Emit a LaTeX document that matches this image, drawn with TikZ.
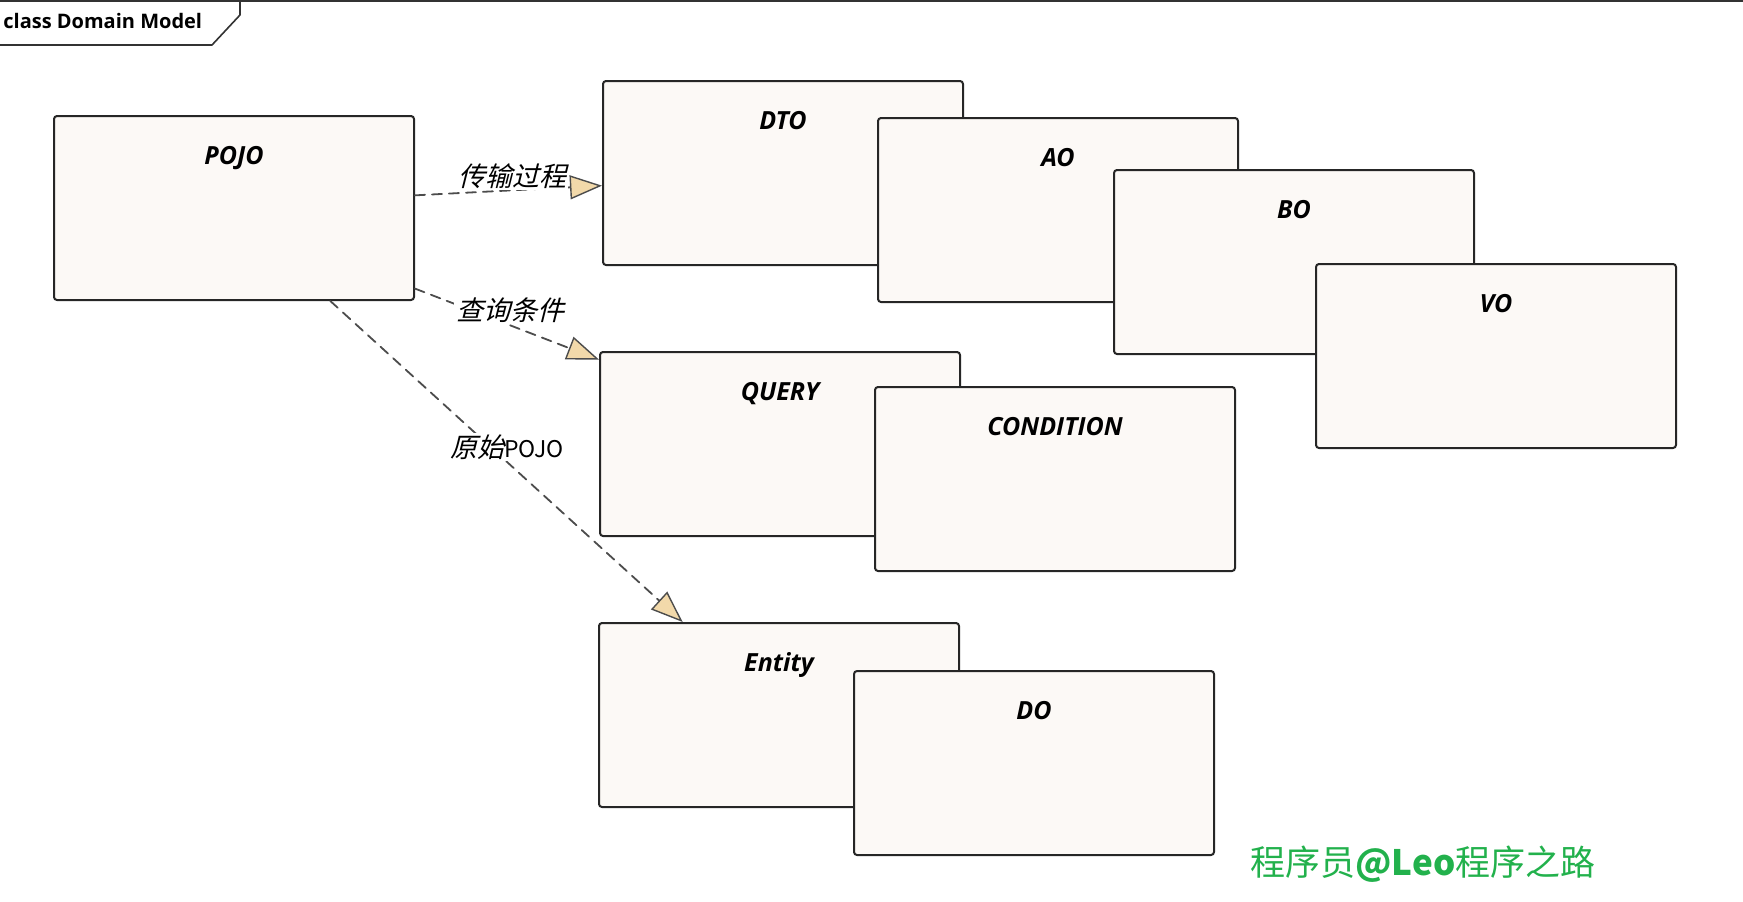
\documentclass[tikz,border=0pt]{standalone}
\usepackage{fontspec}
\setmainfont{Open Sans}
\newfontfamily\cjk{Noto Sans CJK SC}
\newfontfamily\cjkit[FakeSlant=0.25]{Noto Sans CJK SC}
\usetikzlibrary{arrows.meta}

\definecolor{boxfill}{HTML}{FCF9F6}
\definecolor{tipfill}{HTML}{F2D9AA}
\definecolor{markgreen}{HTML}{22B14C}

\begin{document}
\begin{tikzpicture}[x=0.5pt,y=-0.5pt,line cap=round,line join=round,
  classbox/.style={draw=black!85,fill=boxfill,line width=1pt,rounded corners=1.5pt,
    anchor=north west,minimum width=180pt,inner xsep=0pt,inner ysep=14pt,
    text height=10pt,text depth=54pt,font=\bfseries\itshape\fontsize{12.5}{14}\selectfont},
  realize/.style={draw=black!70,line width=0.9pt,dash pattern=on 5pt off 3.5pt,
    -{Triangle[fill=tipfill,length=16pt,width=12pt,line width=0.7pt]}},
  edgelabel/.style={fill=white,inner sep=1pt,font=\fontsize{13.5}{15}\selectfont}]

  \useasboundingbox (0,0) rectangle (1743,901);

  % frame with its name tab
  \draw[black!80,line width=0.8pt] (0,1) -- (1743,1);
  \draw[black!80,line width=0.8pt] (240,1) -- (240,15) -- (212,45) -- (0,45);
  \node[anchor=base west,inner sep=0pt,font=\bfseries\fontsize{10}{12}\selectfont]
    (frametitle) at (3,28) {class Domain Model};

  % classes
  \node[classbox] (pojo) at (53,115) {POJO};

  \node[classbox] (dto) at (602,80) {DTO};
  \node[classbox] (ao) at (877,117) {AO};
  \node[classbox] (bo) at (1113,169) {BO};
  \node[classbox] (vo) at (1315,263) {VO};

  \node[classbox] (query) at (599,351) {QUERY};
  \node[classbox] (condition) at (874,386) {CONDITION};

  \node[classbox] (entity) at (598,622) {Entity};
  \node[classbox] (do) at (853,670) {DO};

  % realizations from POJO
  \draw[realize] (pojo.4) -- (dto.184);
  \draw[realize] (pojo.-24) -- (query.155);
  \draw[realize] (pojo.-44) -- (entity.136);

  % connector labels
  \node[edgelabel] (lbltrans) at (512,176) {\cjkit 传输过程};
  \node[edgelabel] (lblquery) at (510,310) {\cjkit 查询条件};
  \node[edgelabel] (lblorig) at (507,447)
    {{\cjkit 原始}{\cjk\fontsize{11.5}{13}\selectfont POJO}};

  % watermark
  \node[anchor=base,inner sep=0pt,text=markgreen,font=\cjk\fontsize{17.5}{20}\selectfont]
    (mark) at (1423,875) {程序员{\bfseries @Leo}程序之路};
\end{tikzpicture}
\end{document}
